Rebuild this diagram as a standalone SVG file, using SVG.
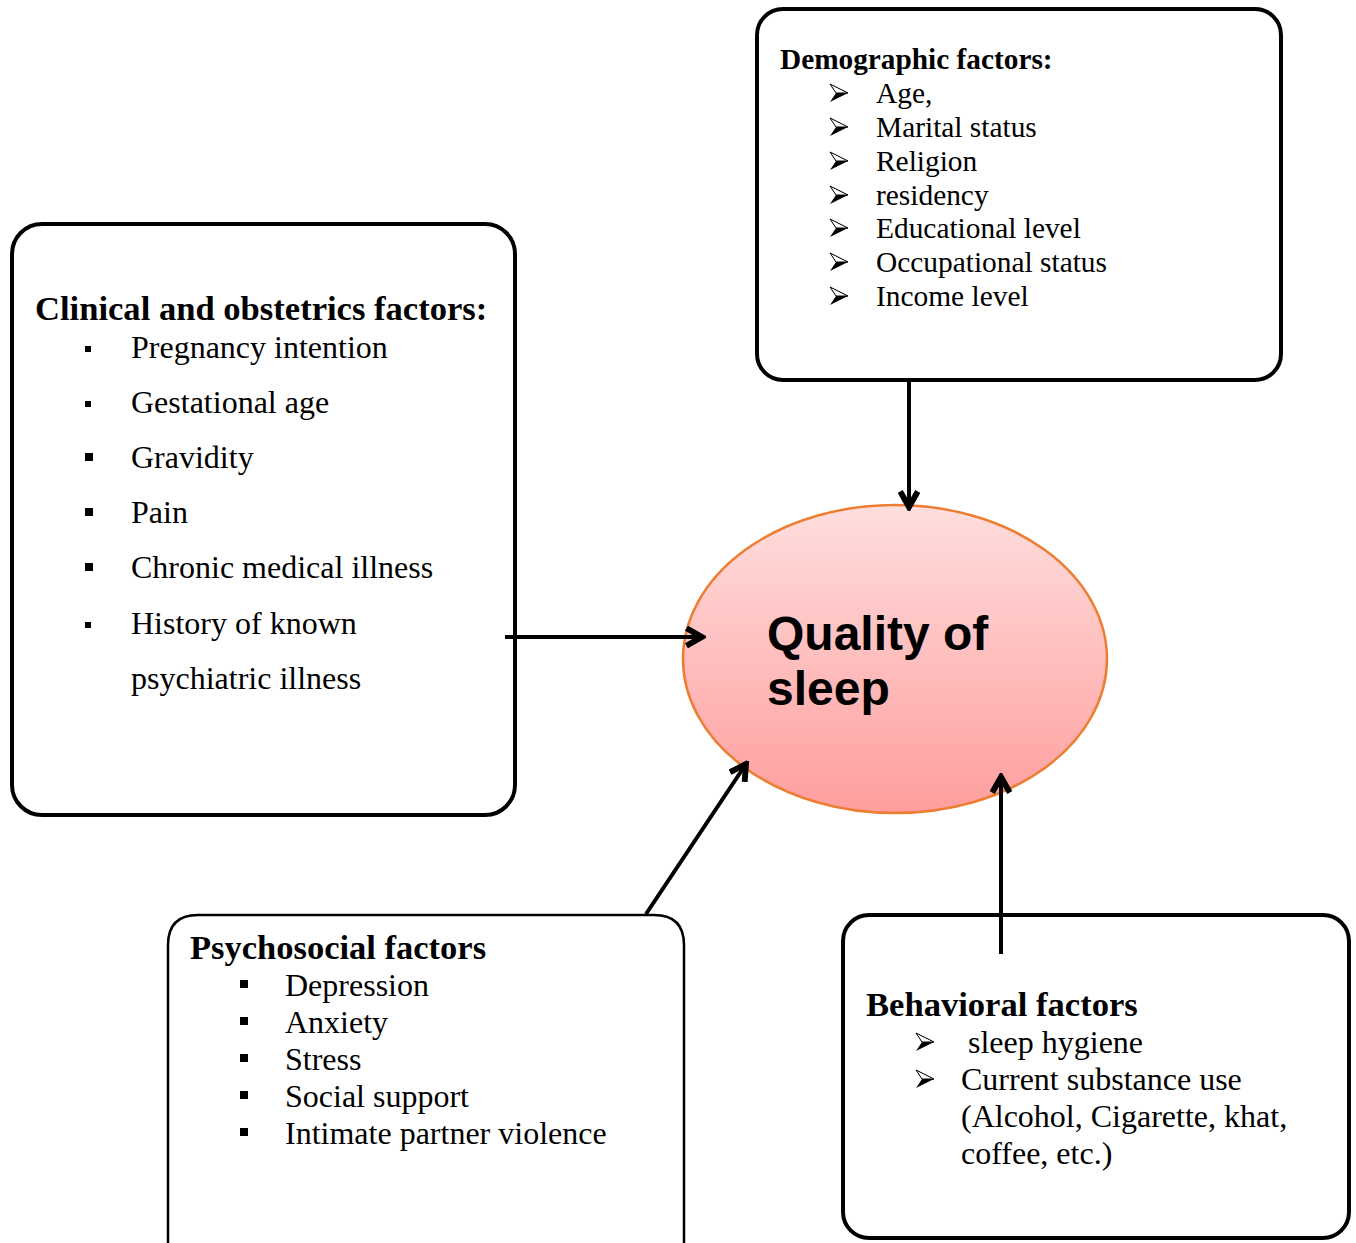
<svg xmlns="http://www.w3.org/2000/svg" width="1356" height="1243" viewBox="0 0 1356 1243">
<defs>
<style>
.box{fill:#fff;stroke:#000;stroke-width:4}
.thin{stroke-width:2.5}
.t{font-family:"Liberation Serif","Times New Roman",serif;fill:#000}
.h{font-weight:bold}
.conn{stroke:#000;stroke-width:4;fill:none}
.q{font-family:"Liberation Sans",Arial,sans-serif;font-weight:bold;font-size:48px;fill:#000}
</style>
<linearGradient id="pink" x1="0" y1="0" x2="0" y2="1">
<stop offset="0" stop-color="#FFDEDE"/>
<stop offset="1" stop-color="#FF9E9E"/>
</linearGradient>
<marker id="arr" viewBox="0 0 12 12" refX="10" refY="6" markerWidth="5.5" markerHeight="5.5" orient="auto" markerUnits="strokeWidth">
<path d="M1.5,1.2 L10,6 L1.5,10.8" fill="none" stroke="#000" stroke-width="3.2" stroke-linejoin="miter"/>
</marker>
<symbol id="chev" viewBox="0 0 18 18" overflow="visible">
<path d="M0,0 L18,9 L0,18 L6,9 Z" fill="#000"/>
<path d="M0,0 L18,9 L6,9 Z" fill="#fff" stroke="#000" stroke-width="1"/>
</symbol>
</defs>

<g id="quality">
<ellipse cx="895" cy="659" rx="212" ry="154" fill="url(#pink)" stroke="#ED7D31" stroke-width="2.5"/>
<text class="q" x="767" y="650">Quality of</text>
<text class="q" x="767" y="705">sleep</text>
</g>

<g id="demographic">
<rect class="box" x="757" y="9" width="524" height="371" rx="26"/>
<text class="t h" x="780" y="69" font-size="29.3">Demographic factors:</text>
<use href="#chev" x="830" y="84" width="18" height="18"/><text class="t" x="876" y="103" font-size="29.4">Age,</text>
<use href="#chev" x="830" y="118" width="18" height="18"/><text class="t" x="876" y="137" font-size="29.4">Marital status</text>
<use href="#chev" x="830" y="152" width="18" height="18"/><text class="t" x="876" y="171" font-size="29.4">Religion</text>
<use href="#chev" x="830" y="186" width="18" height="18"/><text class="t" x="876" y="205" font-size="29.4">residency</text>
<use href="#chev" x="830" y="219" width="18" height="18"/><text class="t" x="876" y="238" font-size="29.4">Educational level</text>
<use href="#chev" x="830" y="253" width="18" height="18"/><text class="t" x="876" y="272" font-size="29.4">Occupational status</text>
<use href="#chev" x="830" y="287" width="18" height="18"/><text class="t" x="876" y="306" font-size="29.4">Income level</text>
</g>

<g id="clinical">
<rect class="box" x="12" y="224" width="503" height="591" rx="30"/>
<text class="t h" x="35" y="320" font-size="34.6">Clinical and obstetrics factors:</text>
<rect x="85" y="346" width="6" height="6"/><text class="t" x="131" y="358" font-size="32">Pregnancy intention</text>
<rect x="85" y="401" width="6" height="6"/><text class="t" x="131" y="413" font-size="32">Gestational age</text>
<rect x="85" y="453" width="8" height="8"/><text class="t" x="131" y="468" font-size="32">Gravidity</text>
<rect x="85" y="508" width="8" height="8"/><text class="t" x="131" y="523" font-size="32">Pain</text>
<rect x="85" y="563" width="8" height="8"/><text class="t" x="131" y="578" font-size="32">Chronic medical illness</text>
<rect x="85" y="622" width="6" height="6"/><text class="t" x="131" y="634" font-size="32">History of known</text>
<text class="t" x="131" y="689" font-size="32">psychiatric illness</text>
</g>

<g id="psychosocial">
<path class="box thin" d="M168,1243 L168,945 Q168,915 198,915 L654,915 Q684,915 684,945 L684,1243"/>
<text class="t h" x="190" y="959" font-size="34.5">Psychosocial factors</text>
<rect x="240" y="980" width="8" height="8"/><text class="t" x="285" y="996" font-size="32">Depression</text>
<rect x="240" y="1017" width="8" height="8"/><text class="t" x="285" y="1033" font-size="32">Anxiety</text>
<rect x="240" y="1054" width="8" height="8"/><text class="t" x="285" y="1070" font-size="32">Stress</text>
<rect x="240" y="1091" width="8" height="8"/><text class="t" x="285" y="1107" font-size="32">Social support</text>
<rect x="240" y="1128" width="8" height="8"/><text class="t" x="285" y="1144" font-size="32">Intimate partner violence</text>
</g>

<g id="behavioral">
<rect class="box" x="843" y="915" width="506" height="323" rx="26"/>
<text class="t h" x="866" y="1016" font-size="34.6">Behavioral factors</text>
<use href="#chev" x="916" y="1033" width="18" height="18"/><text class="t" x="968" y="1053" font-size="32">sleep hygiene</text>
<use href="#chev" x="916" y="1070" width="18" height="18"/><text class="t" x="961" y="1090" font-size="32">Current substance use</text>
<text class="t" x="961" y="1127" font-size="32">(Alcohol, Cigarette, khat,</text>
<text class="t" x="961" y="1164" font-size="32">coffee, etc.)</text>
</g>

<g id="connectors">
<line class="conn" x1="909" y1="380" x2="909" y2="507" marker-end="url(#arr)"/>
<line class="conn" x1="505" y1="637" x2="702" y2="637" marker-end="url(#arr)"/>
<line class="conn" x1="646" y1="914" x2="746" y2="764" marker-end="url(#arr)"/>
<line class="conn" x1="1001" y1="954" x2="1001" y2="777" marker-end="url(#arr)"/>
</g>
</svg>
